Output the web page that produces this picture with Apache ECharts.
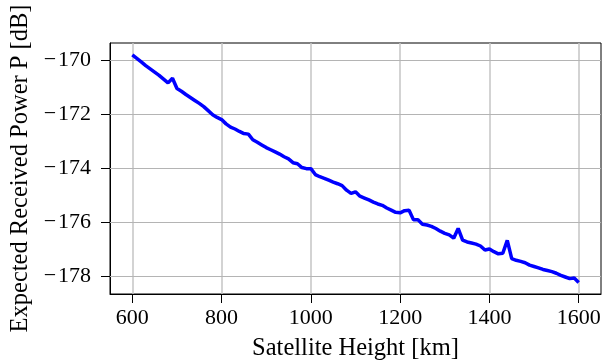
<!DOCTYPE html>
<html>
<head>
<meta charset="utf-8">
<script src="https://cdn.jsdelivr.net/npm/echarts@6/dist/echarts.min.js"></script>
<style>
  html, body { margin: 0; padding: 0; background: #fff; }
  #chart { width: 612px; height: 360px; }
</style>
</head>
<body>
<div id="chart"></div>
<script>
// satellite height in km, every 10 km
const heights = [
  600, 610, 620, 630, 640, 650, 660, 670, 680, 690,
  700, 710, 720, 730, 740, 750, 760, 770, 780, 790,
  800, 810, 820, 830, 840, 850, 860, 870, 880, 890,
  900, 910, 920, 930, 940, 950, 960, 970, 980, 990,
  1000, 1010, 1020, 1030, 1040, 1050, 1060, 1070, 1080, 1090,
  1100, 1110, 1120, 1130, 1140, 1150, 1160, 1170, 1180, 1190,
  1200, 1210, 1220, 1230, 1240, 1250, 1260, 1270, 1280, 1290,
  1300, 1310, 1320, 1330, 1340, 1350, 1360, 1370, 1380, 1390,
  1400, 1410, 1420, 1430, 1440, 1450, 1460, 1470, 1480, 1490,
  1500, 1510, 1520, 1530, 1540, 1550, 1560, 1570, 1580, 1590,
  1600
];

// expected received power in dB
const power = [
  -169.80, -169.93, -170.06, -170.20, -170.32, -170.44, -170.56, -170.70, -170.84, -170.67,
  -171.05, -171.15, -171.27, -171.38, -171.49, -171.60, -171.72, -171.87, -172.02, -172.12,
  -172.20, -172.36, -172.48, -172.55, -172.64, -172.72, -172.74, -172.95, -173.04, -173.14,
  -173.24, -173.32, -173.40, -173.48, -173.58, -173.66, -173.80, -173.84, -173.98, -174.02,
  -174.02, -174.24, -174.32, -174.38, -174.45, -174.52, -174.58, -174.65, -174.82, -174.94,
  -174.88, -175.04, -175.11, -175.18, -175.26, -175.33, -175.38, -175.48, -175.56, -175.64,
  -175.66, -175.58, -175.56, -175.92, -175.92, -176.08, -176.11, -176.16, -176.24, -176.34,
  -176.42, -176.48, -176.60, -176.24, -176.67, -176.74, -176.78, -176.82, -176.89, -177.04,
  -177.00, -177.10, -177.18, -177.16, -176.68, -177.36, -177.42, -177.46, -177.51, -177.60,
  -177.65, -177.70, -177.76, -177.80, -177.84, -177.90, -177.98, -178.04, -178.10, -178.08,
  -178.24
];

const xTicks = [600, 800, 1000, 1200, 1400, 1600];
const yTicks = [-170, -172, -174, -176, -178];

const font = "Liberation Serif";
const chart = echarts.init(document.getElementById("chart"), null, { renderer: "canvas" });

// wide minus like the TeX one
const fmt = (v) => (v < 0 ? "\u2212\u200a" + Math.abs(v) : String(v));

const option = {
  animation: false,
  backgroundColor: "#fff",
  grid: {
    left: 110,
    right: 11,
    top: 43,
    bottom: 66,
    outerBoundsMode: "none",
    containLabel: false,
    show: true,
    borderColor: "#000",
    borderWidth: 1,
  },
  xAxis: {
    type: "value",
    min: 550,
    max: 1650,
    interval: 200,
    name: "Satellite Height [km]",
    nameLocation: "middle",
    nameGap: 42,
    nameTextStyle: { fontFamily: font, fontSize: 24.5, color: "#000" },
    axisLine: { show: true, onZero: false, lineStyle: { color: "#000", width: 1 } },
    axisTick: {
      show: true,
      length: 9,
      lineStyle: { color: "#000" },
      customValues: xTicks,
    },
    axisLabel: {
      fontFamily: font,
      fontSize: 22,
      color: "#000",
      margin: 13,
      customValues: xTicks,
      formatter: fmt,
    },
    splitLine: { show: true, lineStyle: { color: "#c4c4c4", width: 1.5 } },
  },
  yAxis: {
    type: "value",
    min: -178.67,
    max: -169.36,
    name: "Expected Received Power P [dB]",
    nameLocation: "middle",
    nameRotate: 90,
    nameGap: 74,
    nameTextStyle: { fontFamily: font, fontSize: 24.5, color: "#000" },
    axisLine: { show: true, onZero: false, lineStyle: { color: "#000", width: 1 } },
    axisTick: {
      show: true,
      length: 9,
      lineStyle: { color: "#000" },
      customValues: yTicks,
    },
    axisLabel: {
      fontFamily: font,
      fontSize: 22,
      color: "#000",
      margin: 19,
      customValues: yTicks,
      formatter: fmt,
    },
    splitLine: { show: false },
  },
  series: [
    {
      type: "line",
      data: heights.map((h, i) => [h, power[i]]),
      showSymbol: false,
      lineStyle: { color: "#0000ff", width: 3.5 },
      clip: false,
      z: 5,
    },
    {
      // horizontal grid lines at the y tick values
      type: "line",
      data: [],
      markLine: {
        silent: true,
        symbol: "none",
        label: { show: false },
        lineStyle: { color: "#b4b4b4", type: "solid", width: 1.2 },
        data: yTicks.map((v) => ({ yAxis: v })),
      },
      z: 1,
    },
  ],
};

chart.setOption(option);
</script>
</body>
</html>
